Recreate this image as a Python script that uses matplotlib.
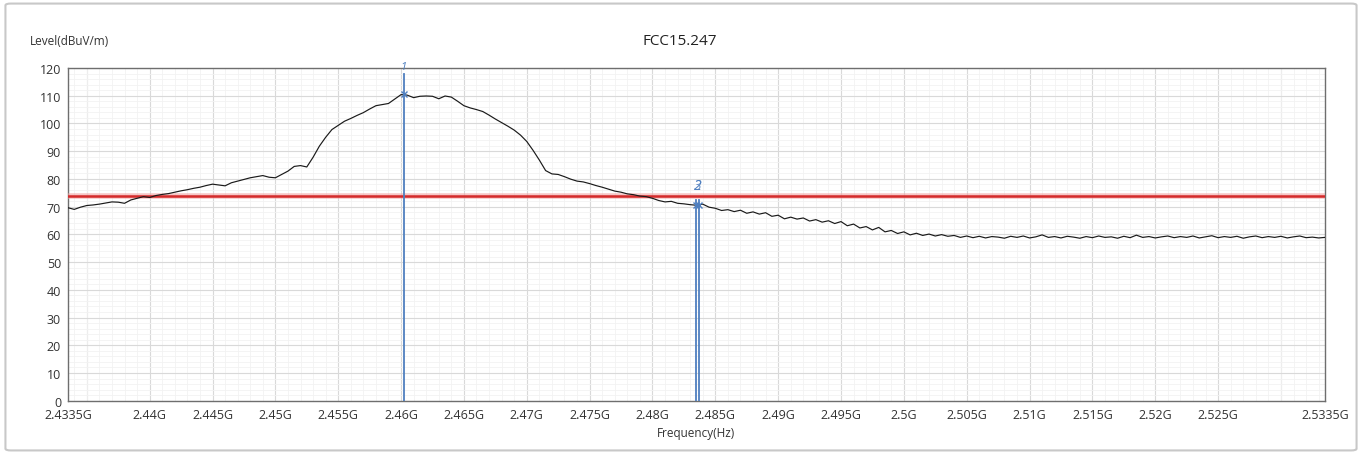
import matplotlib
matplotlib.use("Agg")
import matplotlib.pyplot as plt
from matplotlib.patches import FancyBboxPatch
from matplotlib.ticker import MultipleLocator
import numpy as np

plt.rcParams['font.family'] = ['Open Sans', 'DejaVu Sans']

# sweep: 2.4335 GHz .. 2.5335 GHz, one reading every 0.5 MHz
f_start = 2.4335
f_step = 0.0005
level = [
    69.6, 69.0, 69.8, 70.4, 70.6, 70.9, 71.3, 71.7, 71.6, 71.2,
    72.4, 73.0, 73.6, 73.3, 74.0, 74.4, 74.7, 75.2, 75.7, 76.1,
    76.6, 77.0, 77.6, 78.1, 77.8, 77.5, 78.6, 79.2, 79.8, 80.4,
    80.8, 81.2, 80.6, 80.4, 81.6, 82.8, 84.5, 84.8, 84.3, 87.8,
    91.8, 95.0, 97.8, 99.3, 100.8, 101.8, 102.9, 103.9, 105.2, 106.4,
    106.8, 107.2, 108.8, 110.4, 110.2, 109.3, 109.8, 109.9, 109.8, 108.9,
    109.9, 109.5, 108.0, 106.4, 105.6, 105.0, 104.3, 103.0, 101.6, 100.3,
    99.0, 97.6, 95.8, 93.5, 90.3, 86.8, 83.0, 81.8, 81.6, 80.8,
    79.9, 79.2, 78.9, 78.3, 77.6, 77.0, 76.3, 75.6, 75.2, 74.6,
    74.3, 73.8, 73.6, 73.0, 72.2, 71.7, 71.9, 71.2, 71.0, 70.7,
    70.5, 70.9, 69.8, 69.4, 68.6, 68.9, 68.2, 68.7, 67.6, 68.1,
    67.3, 67.8, 66.5, 66.9, 65.6, 66.2, 65.5, 65.9, 64.8, 65.3,
    64.4, 64.9, 63.9, 64.6, 63.1, 63.7, 62.3, 62.8, 61.6, 62.5,
    60.9, 61.4, 60.3, 60.9, 59.8, 60.4, 59.6, 60.1, 59.4, 59.9,
    59.3, 59.6, 58.9, 59.4, 58.8, 59.3, 58.7, 59.2, 59.0, 58.6,
    59.3, 58.9, 59.4, 58.7, 59.1, 59.8, 58.9, 59.2, 58.7, 59.3,
    59.0, 58.6, 59.2, 58.8, 59.4, 58.9, 59.1, 58.6, 59.3, 58.8,
    59.7, 58.9, 59.2, 58.7, 59.1, 59.4, 58.8, 59.2, 58.9, 59.4,
    58.7, 59.1, 59.5, 58.8, 59.2, 58.9, 59.3, 58.6, 59.1, 59.4,
    58.8, 59.2, 58.9, 59.3, 58.7, 59.1, 59.4, 58.8, 59.0, 58.7,
    58.9,
]
freq = f_start + f_step * np.arange(len(level))

limit = 74.0

marker_names = ['1', '2', '3']
marker_freq = [2.4602, 2.4835, 2.4837]
marker_level = [110.6, 70.5, 70.6]
marker_top = [118.0, 72.5, 72.5]

xtick_vals = [2.4335, 2.44, 2.445, 2.45, 2.455, 2.46, 2.465, 2.47, 2.475, 2.48,
              2.485, 2.49, 2.495, 2.5, 2.505, 2.51, 2.515, 2.52, 2.525, 2.5335]
xtick_labels = ['2.4335G', '2.44G', '2.445G', '2.45G', '2.455G', '2.46G', '2.465G',
                '2.47G', '2.475G', '2.48G', '2.485G', '2.49G', '2.495G', '2.5G',
                '2.505G', '2.51G', '2.515G', '2.52G', '2.525G', '2.5335G']

fig = plt.figure(figsize=(13.62, 4.56), dpi=100)

# outer panel frame
frame = FancyBboxPatch((0.004, 0.01), 0.992, 0.98, boxstyle="round,pad=0,rounding_size=0.004",
                       transform=fig.transFigure, facecolor='white', edgecolor='#c8c8c8',
                       linewidth=1.5, zorder=-10)
fig.patches.append(frame)

ax = fig.add_axes([0.0499, 0.1191, 0.9229, 0.7296])

ax.set_xlim(2.4335, 2.5335)
ax.set_ylim(0, 120)

ax.xaxis.set_minor_locator(MultipleLocator(0.001))
ax.yaxis.set_minor_locator(MultipleLocator(2))
ax.grid(which='minor', color='#f2f2f2', linewidth=0.6)
ax.grid(which='major', axis='y', color='#d9d9d9', linewidth=0.8)
ax.set_axisbelow(True)

# major vertical grid every 5 MHz, labels at the sweep edges too
for xv in np.arange(2.435, 2.5335, 0.005):
    ax.axvline(xv, color='#d9d9d9', linewidth=0.8, zorder=0)
ax.set_xticks(xtick_vals)
ax.set_xticklabels(xtick_labels)
ax.set_yticks(range(0, 121, 10))
ax.tick_params(axis='both', which='both', length=0, labelsize=9, colors='#333333', pad=5)

for s in ax.spines.values():
    s.set_color('#6e6e6e')
    s.set_linewidth(1.0)

# limit line
ax.axhline(limit, color='#f0a0a0', linewidth=4.0, alpha=0.6, zorder=3)
ax.axhline(limit, color='#d42a2a', linewidth=1.8, zorder=3)

# trace
ax.plot(freq, level, color='#1a1a1a', linewidth=0.85, zorder=4)

# markers
for name, mf, ml, mt in zip(marker_names, marker_freq, marker_level, marker_top):
    ax.plot([mf, mf], [0, mt], color='#4f7fbf', linewidth=1.3, zorder=5)
    ax.plot(mf, ml, marker='x', color='#4f7fbf', markersize=5, mew=1.0, zorder=6)
ax.text(marker_freq[0], 118.5, '1', color='#4f7fbf', fontsize=8, style='italic',
        ha='center', va='bottom', zorder=6)
ax.text(marker_freq[1] + 0.0001, 74.8, '2', color='#4f7fbf', fontsize=10, style='italic',
        ha='center', va='bottom', zorder=6)
ax.text(marker_freq[2] - 0.0001, 74.8, '3', color='#4f7fbf', fontsize=10, style='italic',
        ha='center', va='bottom', zorder=6, alpha=0.8)

fig.text(0.4993, 0.908, 'FCC15.247', ha='center', va='center', fontsize=11, color='#222222')
fig.text(0.0220, 0.910, 'Level(dBuV/m)', ha='left', va='center', fontsize=8.5, color='#333333')
ax.set_xlabel('Frequency(Hz)', fontsize=8.5, color='#333333', labelpad=4)

fig.savefig('out.png', dpi=100)
